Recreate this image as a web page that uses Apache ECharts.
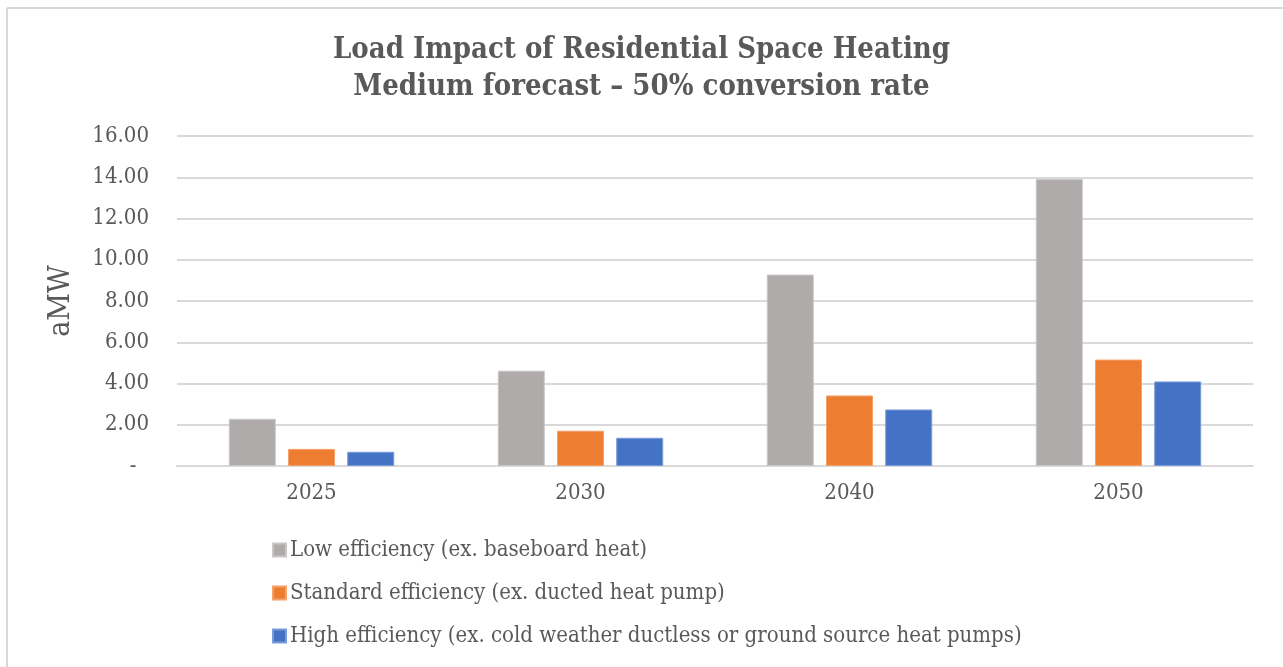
<!DOCTYPE html>
<html>
<head>
<meta charset="utf-8">
<script src="https://cdn.jsdelivr.net/npm/echarts@6/dist/echarts.min.js"></script>
<style>
html,body{margin:0;padding:0;background:#fff;}
#chart{width:1283px;height:667px;}
</style>
</head>
<body>
<div id="chart"></div>
<script>
const titleLines = ['Load Impact of Residential Space Heating', 'Medium forecast \u2013 50% conversion rate'];
const categories = ['2025', '2030', '2040', '2050'];
const seriesNames = [
  'Low efficiency (ex. baseboard heat)',
  'Standard efficiency (ex. ducted heat pump)',
  'High efficiency (ex. cold weather ductless or ground source heat pumps)'
];
const lowEff = [2.29, 4.62, 9.28, 13.91];
const stdEff = [0.83, 1.71, 3.42, 5.16];
const highEff = [0.69, 1.37, 2.74, 4.10];
const yAxisName = 'aMW';

const FONT = '"DejaVu Serif Condensed", "Liberation Serif", serif';
const TXT = '#595959';
const colors = ['#AFABAB', '#ED7D31', '#4472C4'];
const borders = ['#c9c6c6', '#f4a06b', '#7a9bd8'];

const chart = echarts.init(document.getElementById('chart'), null, {renderer: 'canvas'});
const values = [lowEff, stdEff, highEff];
chart.setOption({
  backgroundColor: '#fff',
  animation: false,
  textStyle: {fontFamily: FONT},
  title: {
    text: titleLines.join('\n'),
    left: 'center',
    top: 27,
    textStyle: {fontFamily: FONT, fontSize: 29, fontWeight: 'bold', color: TXT, lineHeight: 37}
  },
  grid: {left: 177, right: 30, top: 136, bottom: 201, containLabel: false},
  legend: {
    orient: 'vertical',
    left: 267,
    top: 534,
    itemGap: 21,
    itemWidth: 13,
    itemHeight: 13,
    icon: 'rect',
    textStyle: {fontFamily: FONT, fontSize: 22, lineHeight: 22, color: TXT, padding: [0, 0, 0, -1]},
    data: seriesNames
  },
  xAxis: {
    type: 'category',
    data: categories,
    axisLine: {show: true, lineStyle: {color: '#d9d9d9', width: 2}},
    axisTick: {show: false},
    axisLabel: {fontFamily: FONT, fontSize: 22, color: TXT, margin: 16}
  },
  yAxis: {
    type: 'value',
    min: 0, max: 16, interval: 2,
    name: yAxisName,
    nameLocation: 'middle',
    nameGap: 101,
    nameRotate: 90,
    nameTextStyle: {fontFamily: FONT, fontSize: 30, color: TXT},
    axisLine: {show: false},
    axisTick: {show: false},
    splitLine: {lineStyle: {color: '#d9d9d9', width: 2}},
    axisLabel: {
      fontFamily: FONT, fontSize: 22, color: TXT, margin: 28,
      formatter: v => v === 0 ? '-  ' : v.toFixed(2)
    }
  },
  series: seriesNames.map((n, i) => ({
    name: n,
    type: 'bar',
    data: values[i],
    barWidth: 47,
    barGap: '26%',
    itemStyle: {color: colors[i], borderColor: borders[i], borderWidth: 1}
  })),
  graphic: [
    {type: 'line', shape: {x1: 7, y1: 8, x2: 1283, y2: 8}, style: {stroke: '#d9d9d9', lineWidth: 2}, silent: true},
    {type: 'line', shape: {x1: 7, y1: 8, x2: 7, y2: 667}, style: {stroke: '#d9d9d9', lineWidth: 2}, silent: true}
  ]
});
</script>
</body>
</html>
